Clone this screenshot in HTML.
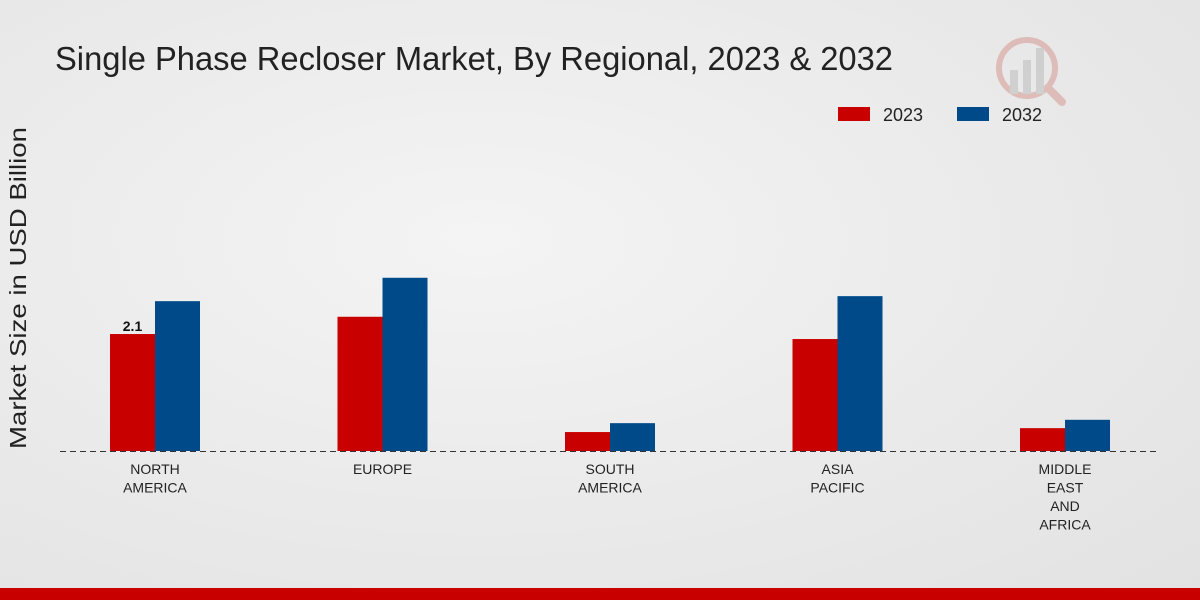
<!DOCTYPE html>
<html><head><meta charset="utf-8"><style>
html,body{margin:0;padding:0;width:1200px;height:600px;overflow:hidden}
body{background:radial-gradient(ellipse at 40% 40%,#f4f4f4 0%,#e9e9e9 60%,#e2e2e2 100%);font-family:"Liberation Sans","DejaVu Sans",sans-serif}
</style></head><body>
<svg id="chart" width="1200" height="600" xmlns="http://www.w3.org/2000/svg">
<text x="55" y="70" font-size="33" fill="#222" textLength="838" lengthAdjust="spacingAndGlyphs">Single Phase Recloser Market, By Regional, 2023 &amp; 2032</text>
<text transform="translate(26,288) rotate(-90)" text-anchor="middle" font-size="23" fill="#222" textLength="322" lengthAdjust="spacingAndGlyphs">Market Size in USD Billion</text>
<g>
<rect x="838" y="107" width="32" height="14" fill="#c80000"/>
<text x="883" y="121" font-size="18" fill="#222">2023</text>
<rect x="957" y="107" width="32" height="14" fill="#004a8a"/>
<text x="1002" y="121" font-size="18" fill="#222">2032</text>
</g>
<g opacity="0.25">
<circle cx="1027" cy="68" r="28" fill="none" stroke="#c0392b" stroke-width="6"/>
<rect x="1010" y="70" width="8" height="24" fill="#888"/><rect x="1023" y="60" width="8" height="34" fill="#888"/><rect x="1036" y="48" width="8" height="46" fill="#888"/>
<line x1="1048" y1="88" x2="1062" y2="102" stroke="#c0392b" stroke-width="8" stroke-linecap="round"/>
</g>
<g id="bars"></g>
<line x1="60" y1="451.5" x2="1160" y2="451.5" stroke="#333" stroke-width="1" stroke-dasharray="6,4"/>
<g id="xlabels"></g>
<rect x="0" y="588" width="1200" height="12" fill="#c80000"/>
</svg>
<script>
const categories=[["NORTH","AMERICA"],["EUROPE"],["SOUTH","AMERICA"],["ASIA","PACIFIC"],["MIDDLE","EAST","AND","AFRICA"]];
const values2023=[2.1,2.41,0.34,2.01,0.41];
const values2032=[2.69,3.11,0.5,2.78,0.56];
const baseY=451, pxPerUnit=55.7, x0=155, step=227.5, bw=45;
const ns="http://www.w3.org/2000/svg";
const yScale=v=>baseY-v*pxPerUnit;
const xScale=i=>x0+i*step;
const bars=document.getElementById('bars'), xl=document.getElementById('xlabels');
categories.forEach((c,i)=>{
  const cx=xScale(i);
  [[values2023,'#c80000',-bw,'2023'],[values2032,'#004a8a',0,'2032']].forEach(([arr,col,off,yr])=>{
    const r=document.createElementNS(ns,'rect');
    r.setAttribute('x',cx+off);r.setAttribute('y',yScale(arr[i]));
    r.setAttribute('width',bw);r.setAttribute('height',baseY-yScale(arr[i]));
    r.setAttribute('fill',col);
    
    
    bars.appendChild(r);
  });
  const t=document.createElementNS(ns,'text');
  t.setAttribute('text-anchor','middle');t.setAttribute('font-size','14');t.setAttribute('fill','#222');
  
  
  c.forEach((line,j)=>{const s=document.createElementNS(ns,'tspan');s.setAttribute('x',cx);s.setAttribute('y',474+j*18.5);s.textContent=line;t.appendChild(s);});
  xl.appendChild(t);
});
const lbl=document.createElementNS(ns,'text');
lbl.setAttribute('x',xScale(0)-bw/2);lbl.setAttribute('y',yScale(values2023[0])-3);
lbl.setAttribute('text-anchor','middle');lbl.setAttribute('font-size','14');lbl.setAttribute('font-weight','bold');lbl.setAttribute('fill','#111');


lbl.textContent=values2023[0];
bars.appendChild(lbl);
</script>
</body></html>
